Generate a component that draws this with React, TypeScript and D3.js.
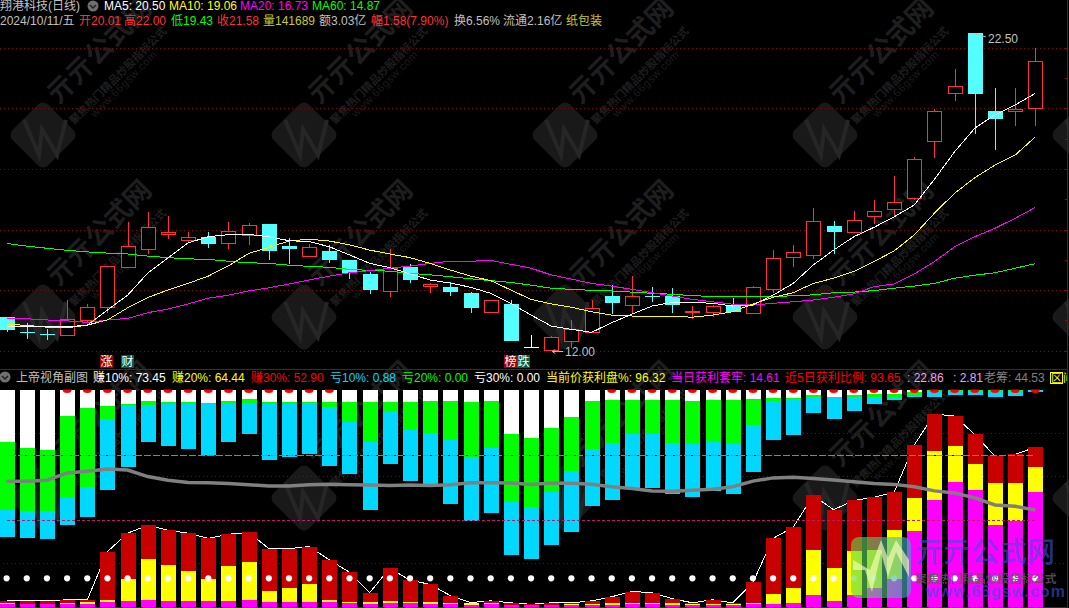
import * as d3 from "d3";

const width = 1069;
const height = 608;

const opens = [13.1,12.6,12.56,12.52,13.01,13.45,14.77,15.37,15.86,15.66,15.75,15.56,15.83,16.18,15.45,15.13,15.29,14.99,14.53,13.98,14.76,14.14,14.1,13.9,13.28,13.54,12.13,12.03,12.32,12.62,13.8,13.5,13.79,13.8,13.27,13.28,13.47,13.25,14.02,15.1,15.17,16.12,15.91,16.46,16.69,17.05,18.92,20.52,22.5,19.92,19.93,20.01];
const highs = [13.1,12.9,12.71,13.67,13.53,14.78,16.25,16.58,16.45,15.92,15.92,16.25,16.21,16.18,15.72,15.51,15.48,15,14.6,15.35,14.86,14.24,14.26,13.93,13.66,13.67,12.51,12.48,13.01,13.67,14.17,14.46,14.11,14.06,13.47,13.51,13.74,14.13,15.32,15.49,16.71,16.28,16.61,16.98,17.77,18.4,19.97,21.31,22.5,20.67,20.67,22];
const lows = [12.62,12.38,12.35,12.49,12.93,13.25,14.76,15.19,15.69,15.59,15.39,15.36,15.49,14.99,14.86,15.1,14.89,14.36,13.87,13.78,14.24,13.91,13.8,13.25,13.28,12.31,12.11,12,12.08,12.62,13.21,13.21,13.61,13.25,13.05,13.12,13.28,13.25,13.9,14.76,15.03,15.19,15.91,16.18,16.42,16.98,18.37,20.25,19.16,18.64,19.42,19.43];
const closes = [12.68,12.58,12.51,13.03,13.43,14.78,15.44,16.07,15.92,15.74,15.52,15.94,16.14,15.29,15.37,15.41,15,14.55,14,14.73,14.34,14.2,13.93,13.4,13.66,12.31,12.13,12.44,12.7,13.39,13.57,13.79,13.77,13.51,13.32,13.46,13.28,14.09,15.05,15.25,16.27,15.92,16.3,16.6,16.9,18.32,19.91,20.73,20.49,19.66,19.97,21.58];

const ma5 = [12.81,12.78,12.78,12.78,12.84,13.34,13.83,14.56,15.06,15.56,15.76,15.83,15.84,15.76,15.63,15.6,15.43,15.16,14.88,14.74,14.53,14.33,14.23,14.09,13.89,13.56,13.17,12.81,12.7,12.6,12.92,13.2,13.47,13.59,13.59,13.56,13.47,13.5,13.83,14.22,14.83,15.32,15.76,16.07,16.42,16.81,17.66,18.57,19.35,19.79,20.12,20.5];
const ma10 = [12.87,12.83,12.77,12.75,12.84,13.01,13.41,13.75,14,14.22,14.46,14.8,15.21,15.41,15.62,15.68,15.62,15.49,15.32,15.19,15.07,14.88,14.66,14.46,14.31,14,13.69,13.54,13.43,13.28,13.17,13.14,13.13,13.13,13.1,13.17,13.28,13.54,13.76,13.91,14.22,14.39,14.61,14.94,15.29,15.82,16.54,17.2,17.71,18.13,18.46,19.06];
const ma20 = [13.07,13.05,13.01,12.98,12.93,13.01,13.06,13.25,13.37,13.54,13.73,13.83,13.97,14.07,14.2,14.33,14.46,14.57,14.64,14.72,14.79,14.88,14.95,14.95,14.98,14.85,14.72,14.5,14.36,14.22,14.13,14.02,13.91,13.8,13.69,13.61,13.53,13.5,13.56,13.61,13.67,13.76,13.87,14.11,14.2,14.53,14.94,15.43,15.76,16.04,16.37,16.73];
const ma60 = [15.54,15.45,15.38,15.31,15.26,15.22,15.19,15.12,15.07,15.03,15.01,14.95,14.9,14.88,14.82,14.78,14.75,14.68,14.65,14.62,14.55,14.5,14.44,14.37,14.31,14.25,14.16,14.06,14.02,13.99,13.97,13.93,13.89,13.86,13.81,13.79,13.79,13.79,13.78,13.81,13.84,13.91,13.93,13.98,14.06,14.13,14.22,14.39,14.49,14.57,14.72,14.87];

const loss10 = [68,68.6,69.1,62.5,58.7,46.4,35.7,24.1,26,27.4,30.2,24.1,20.3,32.6,31.2,29.7,35.4,38.7,55.4,34.5,42,44.5,52.6,60.6,56.8,76.2,78,71.8,65.6,53.5,50.7,45.2,45.5,48.2,49.6,46.9,48.2,37.8,23.1,20.8,10.9,13.7,9.9,6.6,4.7,3.3,3.3,2.4,2.4,3.3,2.8,0.88];
const loss20 = [55.4,55.9,55.9,49.9,45,13.7,7.6,7.2,6.5,6.6,6.5,6.3,6.1,6.6,6.6,6,8,15.1,24.1,10.4,18.4,19.8,23.3,31.2,26.9,51.6,54,47.2,37.6,27.2,24.4,20.6,20.6,24.4,25.3,24.1,25,16.1,5.2,4.2,3.6,3.6,3.6,3.3,3.6,2.8,1.1,0.5,0.5,0.6,0.6,0];
const loss30 = [24.1,26.9,27.9,12.3,8.5,7.6,6.6,5.2,5.7,5.7,6.1,5.2,4.2,5.7,5.7,5.7,5.7,5.7,5.7,5.7,5.7,5.2,5.2,5.7,5.2,20.3,22.2,17.9,12.7,5.2,4.7,4.7,4.7,4.7,5.2,4.7,4.7,4.2,3.8,3.8,2.5,3.3,2.4,1.9,1.9,0.9,0.3,0,0.2,0.3,0.3,0];
const gain10 = [2.6,2.6,2.6,3.1,3.1,25.3,33.8,37.5,35.2,33.8,31.4,33.3,34.2,26.7,26.7,27.6,21.5,15.8,6.4,17.7,12.1,10.2,5,1.8,2.6,1.7,1,1.7,1.7,2.6,4.5,6.9,6.4,3.6,1.7,3.1,1.7,11.1,31.4,36.6,51.2,44.6,48.9,50.3,52.7,74.5,88.7,87.8,79.3,69.3,70.1,73.45];
const gain20 = [1.7,1.2,1.2,1.7,2.1,3.1,12.5,22,19.1,16.3,12.5,18.7,20.6,7.3,8.3,10.2,3.1,2.1,2.1,2.6,2.1,2.1,1.5,1.4,1.7,0.7,0.6,0.7,1.2,1.2,1.7,1.7,1.7,1.4,1.2,1.2,1.2,1.7,5.9,8.7,26.2,17.7,25.7,26.2,35.2,49.8,71.7,74,65.6,57.1,57.1,64.44];
const gain30 = [1.2,1.2,1.2,1.2,1.2,2.1,2.6,3.1,2.6,2.6,2.6,2.6,3.1,2.1,2.1,2.1,2.1,1.7,1.2,1.7,1.7,1.2,1,0.7,1.2,0.7,0.6,0.7,0.7,0.7,0.7,1.2,1.2,0.7,0.7,0.7,0.7,1.2,1.2,1.7,5.4,2.6,5.4,8.7,12.7,34.7,48.9,57.5,53.6,37.5,39.4,52.9];
const oldChips = [57.7,57.8,58.2,61.6,62.4,63.4,62.9,59.9,58.2,57.2,57.1,56.7,56.1,55.6,55.6,56.1,56.4,56.1,56,55.8,56,55.8,56.1,57.1,57.1,56.9,56.3,56.9,56.8,56.4,55.2,54.4,53.3,53.1,53.6,54.1,55.2,57.8,59.3,59.6,59,58.3,57.5,56.7,56.3,55.2,53.3,52.3,50.1,46.8,46.2,44.53];

const redDotDays = [3,4,5,6,7,8,9,10,11,12,13,14,15,16,30,31,32,33,34,35,36,37,38,39,40,41,42,43,44,45,46,47,48,49,50,51];
const priceGrid = [12, 14, 16, 18, 20, 22];
const priceTicks = [12, 13, 14, 15, 16, 17, 18, 19, 20, 21, 22];
const tags = [
  { day: 5, red: "涨", green: "" },
  { day: 6, red: "", green: "财" },
  { day: 25, red: "榜", green: "跌" },
];

const RED = "#ff3232";
const CYAN = "#54ffff";
const GREY = "#c0c0c0";
const OLIVE = "#c8c832";
const GRID = "#760c12";
const FRAME = "#a00000";
const FONT = "'Liberation Sans', 'Noto Sans CJK SC', sans-serif";
const CJK = "'Noto Sans CJK SC', sans-serif";

const row1 = [
  { x: 0, text: "翔港科技(日线)", fill: GREY },
  { x: 104, text: "MA5: 20.50", fill: "#ffffff" },
  { x: 169, text: "MA10: 19.06", fill: "#ffff00" },
  { x: 240, text: "MA20: 16.73", fill: "#ff00ff" },
  { x: 312, text: "MA60: 14.87", fill: "#00ff00" },
];
const row2 = [
  { x: 0, text: "2024/10/11/五", fill: GREY },
  { x: 79, text: "开20.01", fill: RED },
  { x: 124, text: "高22.00", fill: RED },
  { x: 171, text: "低19.43", fill: "#00ff00" },
  { x: 217, text: "收21.58", fill: RED },
  { x: 263, text: "量141689", fill: OLIVE },
  { x: 319, text: "额3.03亿", fill: GREY },
  { x: 371, text: "幅1.58(7.90%)", fill: RED },
  { x: 454, text: "换6.56%", fill: GREY },
  { x: 503, text: "流通2.16亿", fill: GREY },
  { x: 566, text: "纸包装", fill: OLIVE },
];
const row3 = [
  { x: 16, text: "上帝视角副图", fill: GREY },
  { x: 93, text: "赚10%: 73.45", fill: "#ffffff" },
  { x: 172, text: "赚20%: 64.44", fill: "#ffff00" },
  { x: 251, text: "赚30%: 52.90", fill: "#ff0000" },
  { x: 330, text: "亏10%: 0.88", fill: "#00d8ff" },
  { x: 402, text: "亏20%: 0.00", fill: "#00ff00" },
  { x: 474, text: "亏30%: 0.00", fill: "#ffffff" },
  { x: 546, text: "当前价获利盘%: 96.32", fill: "#ffff00" },
  { x: 671, text: "当日获利套牢: 14.61", fill: "#ff00ff" },
  { x: 785, text: "近5日获利比例: 93.65", fill: "#ff0000" },
  { x: 907, text: ": 22.86", fill: "#f0a0f0" },
  { x: 953, text: ": 2.81", fill: "#f0a0f0" },
  { x: 984, text: "老筹: 44.53", fill: "#808080" },
];

const markCols = [43, 304, 565, 825, 1085];
const markRows = [135, 317, 498];

const days = closes.map((_, i) => i);
const xScale = d3.scaleLinear().domain([0, 51]).range([6.6, 1035.3]);
const yPrice = d3.scaleLinear().domain([12, 22]).range([350.5, 48]);
const yPct = d3.scaleLinear().domain([0, 100]).range([606.5, 389.6]);

const snap = (v: number) => Math.round(v) + 0.5;
const px = (d: number) => Math.round(xScale(d));

const priceLine = d3.line<number>().x((_, i) => xScale(i)).y((d) => yPrice(d));
const pctLine = d3.line<number>().x((_, i) => xScale(i)).y((d) => yPct(d));
const dot = d3.symbol().type(d3.symbolCircle).size(30);

const Candle = ({ d }: { d: number }) => {
  const o = opens[d];
  const c = closes[d];
  const x = px(d);
  const top = Math.round(yPrice(Math.max(o, c)));
  const bottom = Math.round(yPrice(Math.min(o, c)));
  const hi = Math.round(yPrice(highs[d]));
  const lo = Math.round(yPrice(lows[d]));
  const color = c > o ? RED : c < o ? CYAN : "#ffffff";
  return (
    <g shapeRendering="crispEdges">
      <line x1={x + 0.5} x2={x + 0.5} y1={hi} y2={top} stroke={color} />
      <line x1={x + 0.5} x2={x + 0.5} y1={bottom} y2={lo} stroke={color} />
      {c > o ? (
        <rect x={x - 7 + 0.5} y={top + 0.5} width={14} height={Math.max(bottom - top, 1)} fill="#000" stroke={color} />
      ) : c < o ? (
        <rect x={x - 7} y={top} width={15} height={Math.max(bottom - top, 1)} fill={color} />
      ) : (
        <line x1={x - 7} x2={x + 8} y1={top + 0.5} y2={top + 0.5} stroke={color} />
      )}
    </g>
  );
};

const Mark = ({ cx, cy }: { cx: number; cy: number }) => (
  <g transform={`translate(${cx},${cy})`} fontFamily={CJK}>
    <rect x={-25} y={-25} width={50} height={50} rx={7} fill="#191919" transform="rotate(45)" />
    <polyline points="-19,-15 -4,20 -1,-6 14,20 23,-15" fill="none" stroke="#262626" strokeWidth={4} />
    <text transform="translate(15,-30) rotate(-45)" fontSize={27} fontWeight={700} fill="#1e1e1e">亓亓公式网</text>
    <text transform="translate(31,-10) rotate(-45)" fontSize={11} fontWeight={700} fill="#1e1e1e">聚焦热门精品炒股指标公式</text>
    <text transform="translate(52,-17) rotate(-45)" fontSize={11} fontFamily={FONT} letterSpacing={0.6} fill="#1c1c1c">www.66gsw.com</text>
  </g>
);

const Icon = ({ cx, cy }: { cx: number; cy: number }) => (
  <g>
    <circle cx={cx} cy={cy} r={5.5} fill="#707070" />
    <polyline points={`${cx - 3},${cy - 1} ${cx},${cy + 2} ${cx + 3},${cy - 1}`} fill="none" stroke="#222" strokeWidth={1.5} />
  </g>
);

const TextRow = ({ items, y }: { items: { x: number; text: string; fill: string }[]; y: number }) => (
  <g fontFamily={FONT} fontSize={12}>
    {items.map((t) => (
      <text key={t.x} x={t.x} y={y} fill={t.fill}>{t.text}</text>
    ))}
  </g>
);

export default function App() {
  const low27 = yPrice(12);
  const high48 = yPrice(22.5);
  return (
    <svg width={width} height={height} style={{ position: "fixed", left: 0, top: 0, background: "#000" }}>
      <defs>
        <clipPath id="subPane">
          <rect x={0} y={yPct(100)} width={1068} height={yPct(0) - yPct(100) + 1} />
        </clipPath>
        <linearGradient id="logoFill" x1="0" x2="1" y1="0" y2="0">
          <stop offset="0" stopColor="rgb(100,220,60)" stopOpacity={0.62} />
          <stop offset="1" stopColor="rgb(60,170,200)" stopOpacity={0.62} />
        </linearGradient>
      </defs>

      {markRows.map((cy) => markCols.map((cx) => <Mark key={`${cx}-${cy}`} cx={cx} cy={cy} />))}

      {/* main pane */}
      {priceGrid.map((p) => (
        <line key={p} x1={0} x2={1067} y1={snap(yPrice(p))} y2={snap(yPrice(p))} stroke={GRID} strokeDasharray="1 3" shapeRendering="crispEdges" />
      ))}
      {priceTicks.map((p) => (
        <line key={p} x1={1065} x2={1068} y1={snap(yPrice(p))} y2={snap(yPrice(p))} stroke={FRAME} shapeRendering="crispEdges" />
      ))}
      {days.map((d) => <Candle key={d} d={d} />)}
      <g fill="none" shapeRendering="crispEdges">
        <path d={priceLine(ma60)!} stroke="#00ff00" />
        <path d={priceLine(ma20)!} stroke="#ff00ff" />
        <path d={priceLine(ma10)!} stroke="#ffff00" />
        <path d={priceLine(ma5)!} stroke="#ffffff" />
      </g>

      {/* high / low notes */}
      <g stroke={GREY} fill="none">
        <path d={`M${xScale(27) + 1},${low27 + 1}h11M${xScale(27) + 1},${low27 + 1}l3,-2M${xScale(27) + 1},${low27 + 1}l3,2`} />
        <path d={`M${xScale(48)},${high48 + 1}l11,3`} />
      </g>
      <text x={565} y={356} fontFamily={FONT} fontSize={12} fill={GREY}>12.00</text>
      <text x={988} y={43} fontFamily={FONT} fontSize={12} fill={GREY}>22.50</text>

      {tags.map((t) => {
        const left = px(t.day) - 7;
        return (
          <g key={t.day} fontFamily={CJK} fontSize={12} textAnchor="middle">
            {t.red && <rect x={left} y={355} width={13} height={13} fill="#a00000" />}
            {t.red && <text x={left + 6.5} y={366} fill="#fff">{t.red}</text>}
            {t.green && <rect x={t.red ? left + 13 : left} y={355} width={13} height={13} fill="#006040" />}
            {t.green && <text x={(t.red ? left + 13 : left) + 6.5} y={366} fill="#fff">{t.green}</text>}
          </g>
        );
      })}

      {/* sub pane */}
      {[80, 60, 20].map((v) => (
        <line key={v} x1={3} x2={1067} y1={snap(yPct(v))} y2={snap(yPct(v))} stroke={GRID} strokeDasharray="1 3" shapeRendering="crispEdges" />
      ))}
      <path d={pctLine(gain10)!} fill="none" stroke="#ffffff" shapeRendering="crispEdges" />

      <g clipPath="url(#subPane)" shapeRendering="crispEdges">
        {days.map((d) => {
          const x = px(d) - 7;
          const hang = (v: number, fill: string) => (
            <rect x={x} y={yPct(100)} width={15} height={yPct(100 - v) - yPct(100)} fill={fill} />
          );
          const stand = (v: number, fill: string) => (
            <rect x={x} y={yPct(v)} width={15} height={yPct(0) - yPct(v)} fill={fill} />
          );
          return (
            <g key={d}>
              {hang(loss10[d], "#00d8ff")}
              {hang(loss20[d], "#00ff00")}
              {hang(loss30[d], "#ffffff")}
              {stand(gain10[d], "#c80000")}
              {stand(gain20[d], "#ffff00")}
              {stand(gain30[d], "#ff00ff")}
            </g>
          );
        })}
      </g>
      <g clipPath="url(#subPane)">
        {redDotDays.map((d) => (
          <ellipse key={d} cx={xScale(d)} cy={yPct(100)} rx={4.5} ry={3.5} fill="#ff0000" />
        ))}
      </g>

      <line x1={xScale(0) + 2} x2={xScale(51)} y1={snap(yPct(70))} y2={snap(yPct(70))} stroke="#000" shapeRendering="crispEdges" />
      <line x1={xScale(0) + 2} x2={xScale(51)} y1={snap(yPct(70))} y2={snap(yPct(70))} stroke="#00e000" strokeDasharray="7 2" shapeRendering="crispEdges" />
      <line x1={xScale(0)} x2={xScale(51)} y1={snap(yPct(40))} y2={snap(yPct(40))} stroke="#c01868" strokeDasharray="3 2" shapeRendering="crispEdges" />

      <path d={pctLine(oldChips)!} fill="none" stroke="#808080" strokeWidth={3.5} />
      {days.map((d) => (
        <path key={d} d={dot()!} transform={`translate(${xScale(d)},${yPct(13)})`} fill="#ffffff" />
      ))}

      {/* frame */}
      <g stroke={FRAME} shapeRendering="crispEdges">
        <line x1={0} x2={1068} y1={369.5} y2={369.5} />
        <line x1={0} x2={1068} y1={607.5} y2={607.5} />
        <line x1={1067.5} x2={1067.5} y1={0} y2={608} />
      </g>

      {/* header text */}
      <TextRow items={row1} y={10} />
      <TextRow items={row2} y={25} />
      <TextRow items={row3} y={382} />
      <Icon cx={93} cy={6} />
      <Icon cx={5} cy={377} />
      <rect x={1050.5} y={372.5} width={12} height={11} fill="none" stroke="#ffff00" />
      <text x={1051} y={382} fontFamily={CJK} fontSize={11} fill="#ffff00">区</text>
      <text x={1063} y={382} fontFamily={CJK} fontSize={11} fill="#ffff00">间</text>
      <rect x={1067} y={370} width={2} height={20} fill="#000" />
      <rect x={1067} y={370} width={1} height={20} fill={FRAME} />

      {/* site logo, lower right */}
      <rect x={851} y={537} width={60} height={61} rx={8} fill="url(#logoFill)" />
      <polygon points="853,570 865,570 872,592 881,553 888,577 896,552 909,577 909,560 896,540 888,558 881,540 870,570 853,560" fill="rgba(255,255,190,0.62)" />
      <text x={915} y={562} fontFamily={CJK} fontSize={28} fontWeight={500} fill="rgba(60,80,220,0.62)">亓亓公式网</text>
      <text x={915} y={583} fontFamily={CJK} fontSize={11.8} fontWeight={700} fill="rgba(90,90,90,0.85)">聚焦热门精品炒股指标公式</text>
      <text x={926} y={597} fontFamily={FONT} fontSize={16} fontWeight={700} letterSpacing={1} fill="rgba(60,80,220,0.62)">www.66gsw.com</text>
    </svg>
  );
}
